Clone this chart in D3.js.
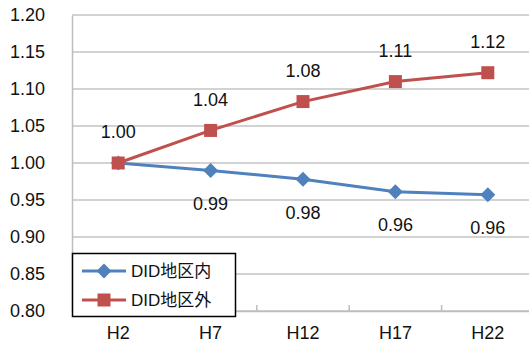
<!DOCTYPE html>
<html>
<head>
<meta charset="utf-8">
<script src="https://cdn.jsdelivr.net/npm/d3@7"></script>
<style>
  html, body { margin: 0; padding: 0; background: #fff; }
  svg { display: block; font-family: "Liberation Sans", Arial, "Noto Sans CJK JP", sans-serif; }
</style>
</head>
<body>
<svg id="chart" width="529" height="347"></svg>
<script>
// Population index by year (H2 = 1.00)
const categories = ["H2", "H7", "H12", "H17", "H22"];
const seriesNames = ["DID地区内", "DID地区外"];
const insideDID = [1.000, 0.990, 0.978, 0.961, 0.957];
const outsideDID = [1.000, 1.044, 1.083, 1.110, 1.122];
const yTicks = [0.80, 0.85, 0.90, 0.95, 1.00, 1.05, 1.10, 1.15, 1.20];

const svg = d3.select("#chart");
const margin = { left: 72, right: -5, top: 15, bottom: 36 };
const W = 529, H = 347;
const plotW = W - margin.left - margin.right;
const plotH = H - margin.top - margin.bottom;

const x = d3.scaleBand().domain(categories).range([margin.left, margin.left + plotW]);
const y = d3.scaleLinear().domain([0.80, 1.20]).range([margin.top + plotH, margin.top]);
const fmt = d3.format(".2f");

// horizontal gridlines
svg.append("g")
  .selectAll("line")
  .data(yTicks)
  .join("line")
  .attr("x1", margin.left).attr("x2", margin.left + plotW)
  .attr("y1", d => y(d)).attr("y2", d => y(d))
  .attr("stroke", "#c3c3c3").attr("stroke-width", 1.5);

// y axis
const yAxis = svg.append("g")
  .attr("transform", `translate(${margin.left},0)`)
  .call(d3.axisLeft(y).tickValues(yTicks).tickFormat(fmt).tickSize(0).tickPadding(27));
yAxis.select(".domain").attr("stroke", "#bdbdbd").attr("stroke-width", 1.5);
yAxis.selectAll("text").attr("font-size", 18).attr("fill", "#111");

// x axis
const xAxis = svg.append("g")
  .attr("transform", `translate(0,${margin.top + plotH})`)
  .call(d3.axisBottom(x).tickSize(0).tickPadding(15));
xAxis.select(".domain").attr("stroke", "#bdbdbd").attr("stroke-width", 1.5);
xAxis.selectAll("text").attr("font-size", 18).attr("fill", "#111");
// category separator ticks
svg.append("g")
  .selectAll("line")
  .data(categories.slice(1))
  .join("line")
  .attr("x1", d => x(d)).attr("x2", d => x(d))
  .attr("y1", margin.top + plotH - 6).attr("y2", margin.top + plotH)
  .attr("stroke", "#bdbdbd").attr("stroke-width", 1.5);

const cx = d => x(d) + x.bandwidth() / 2;
const series = [
  { name: seriesNames[0], values: insideDID, color: "#4f81bd", marker: "diamond", labelDy: 33 },
  { name: seriesNames[1], values: outsideDID, color: "#c0504d", marker: "square", labelDy: -31 }
];

const line = d3.line().x((d, i) => cx(categories[i])).y(d => y(d));

function drawMarker(g, type, color, px, py) {
  if (type === "diamond") {
    g.append("path")
      .attr("d", `M${px},${py - 7.5}L${px + 7.5},${py}L${px},${py + 7.5}L${px - 7.5},${py}Z`)
      .attr("fill", color);
  } else {
    g.append("rect")
      .attr("x", px - 6.5).attr("y", py - 6.5)
      .attr("width", 13).attr("height", 13)
      .attr("fill", color);
  }
}

series.forEach(s => {
  const g = svg.append("g");
  g.append("path")
    .datum(s.values)
    .attr("d", line)
    .attr("fill", "none")
    .attr("stroke", s.color)
    .attr("stroke-width", 3);
  s.values.forEach((v, i) => drawMarker(g, s.marker, s.color, cx(categories[i]), y(v)));
});

// data labels; where both series meet at the same value only one label is shown
series.forEach((s, si) => {
  const other = series[1 - si].values;
  const pts = s.values
    .map((v, i) => ({ v, i }))
    .filter(d => si === 1 || d.v !== other[d.i]);
  svg.append("g")
    .selectAll("text")
    .data(pts)
    .join("text")
    .attr("x", d => cx(categories[d.i]))
    .attr("y", d => y(d.v) + s.labelDy)
    .attr("dy", "0.35em")
    .attr("text-anchor", "middle")
    .attr("font-size", 18)
    .attr("fill", "#111")
    .text(d => fmt(d.v));
});

// legend
const legend = svg.append("g");
legend.append("rect")
  .attr("x", 72.5).attr("y", 253.5)
  .attr("width", 163).attr("height", 63)
  .attr("fill", "#fff").attr("stroke", "#000").attr("stroke-width", 1.5);
series.forEach((s, i) => {
  const ly = 271 + i * 29;
  legend.append("line")
    .attr("x1", 82).attr("x2", 126).attr("y1", ly).attr("y2", ly)
    .attr("stroke", s.color).attr("stroke-width", 3);
  drawMarker(legend, s.marker, s.color, 104, ly);
  legend.append("text")
    .attr("x", 131).attr("y", ly).attr("dy", "0.35em")
    .attr("font-size", 17).attr("fill", "#111")
    .text(s.name);
});
</script>
</body>
</html>
